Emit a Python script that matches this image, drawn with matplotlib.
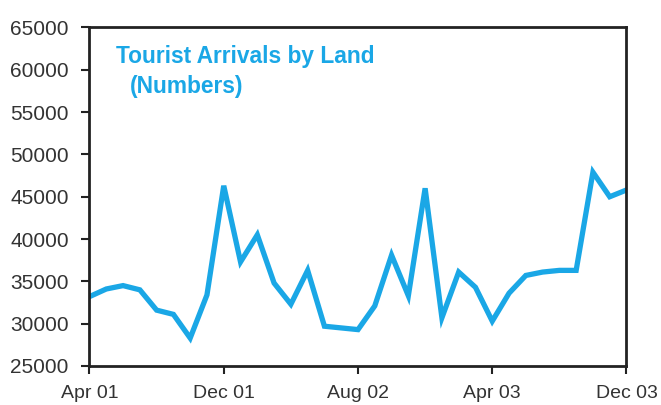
import matplotlib
matplotlib.use("Agg")
import matplotlib.pyplot as plt

# monthly tourist arrivals by land, Apr 2001 - Dec 2003
months = list(range(33))
arrivals = [
    33200, 34100, 34500, 34000, 31600, 31100, 28300, 33400,
    46300, 37300, 40500, 34800, 32300, 36300, 29700, 29500,
    29300, 32100, 38100, 33300, 46000, 30700, 36100, 34300,
    30300, 33600, 35700, 36100, 36300, 36300, 47900, 45000,
    45800,
]
tick_pos = [0, 8, 16, 24, 32]
tick_labels = ["Apr 01", "Dec 01", "Aug 02", "Apr 03", "Dec 03"]
y_ticks = list(range(25000, 65001, 5000))

blue = "#1AA7E6"
plt.rcParams["font.family"] = ["Liberation Sans", "DejaVu Sans"]

fig = plt.figure(figsize=(6.61, 4.05), dpi=100)
ax = fig.add_axes([0.1354, 0.0963, 0.8124, 0.8358])

ax.plot(months, arrivals, color=blue, linewidth=3.8, solid_joinstyle="miter")

ax.set_xlim(0, 32)
ax.set_ylim(25000, 65000)
ax.set_xticks(tick_pos)
ax.set_xticklabels(tick_labels)
ax.set_yticks(y_ticks)
ax.set_yticklabels([str(v) for v in y_ticks])
ax.tick_params(axis="both", direction="out", length=6, width=1.5,
               colors="#222222", labelcolor="#333333")
ax.tick_params(axis="x", pad=8, labelsize=14)
ax.tick_params(axis="y", pad=9, labelsize=15)
for side in ax.spines.values():
    side.set_linewidth(2)
    side.set_color("#222222")

ax.text(0.05, 0.915, "Tourist Arrivals by Land", transform=ax.transAxes,
        color=blue, fontsize=16.4, fontweight="bold", va="center", ha="left")
ax.text(0.075, 0.825, "(Numbers)", transform=ax.transAxes,
        color=blue, fontsize=16.4, fontweight="bold", va="center", ha="left")

fig.savefig("out.png", dpi=100)
